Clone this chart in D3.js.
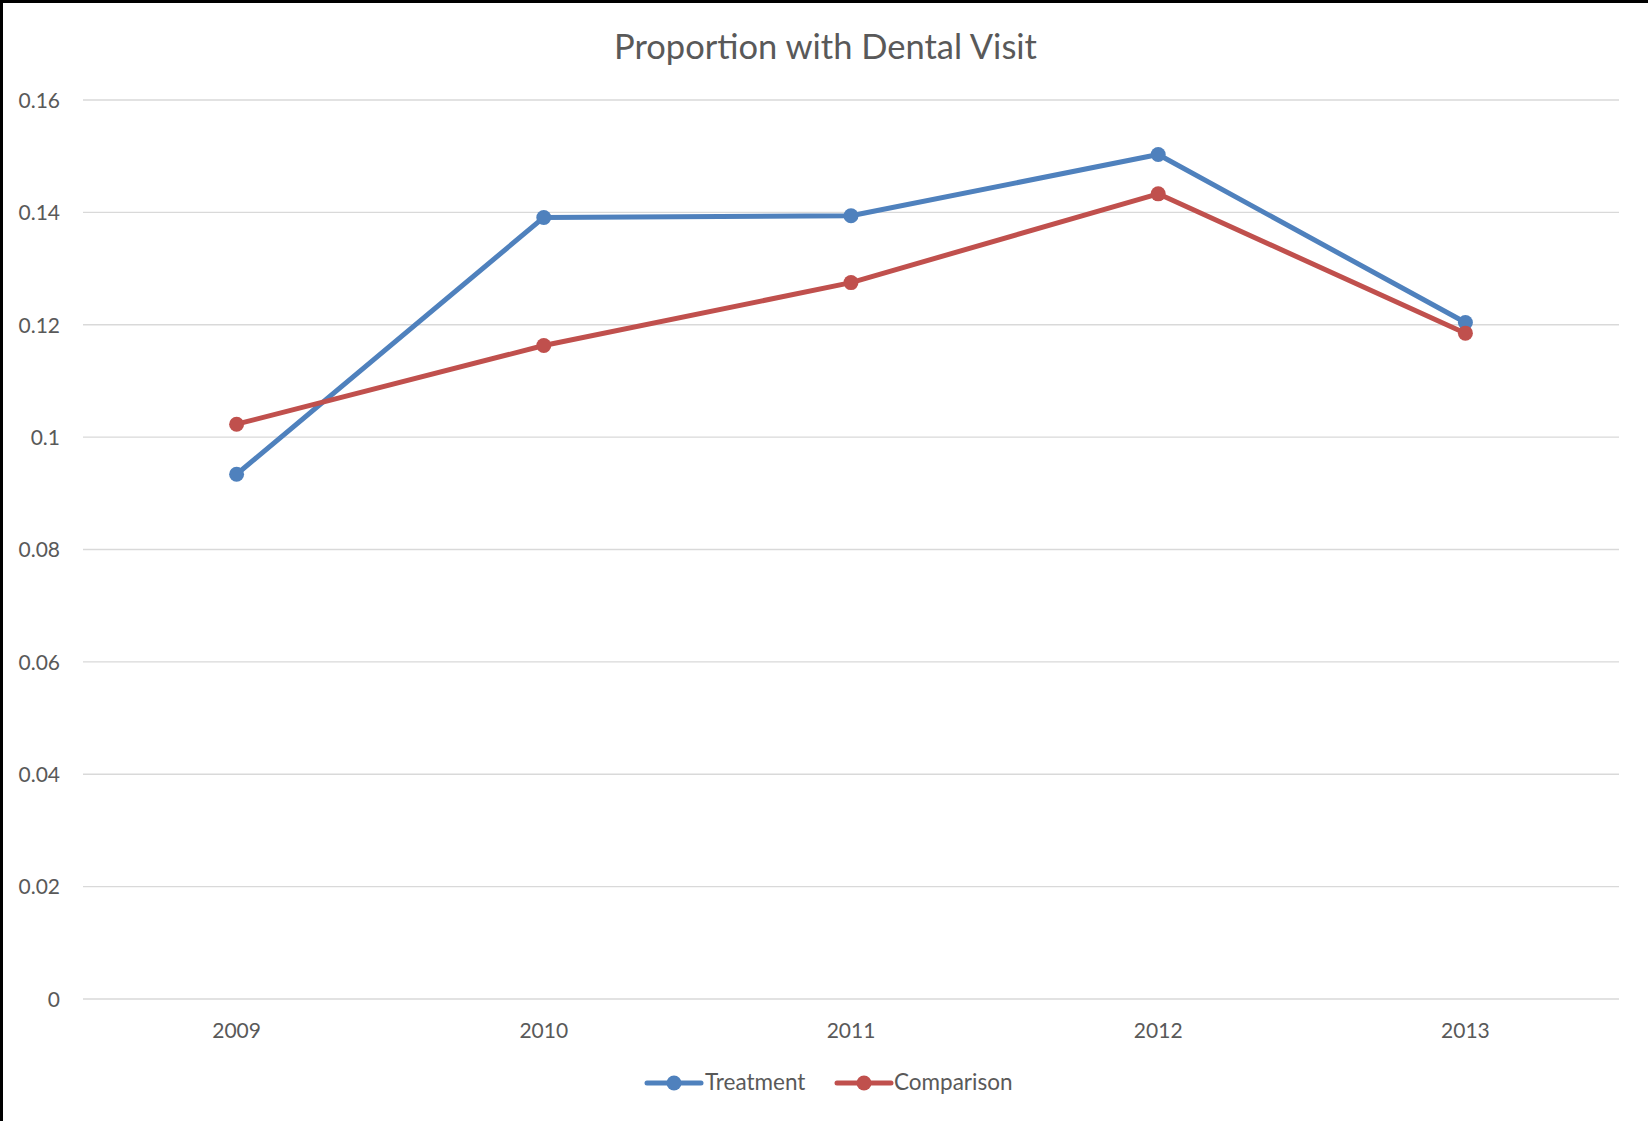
<!DOCTYPE html>
<html>
<head>
<meta charset="utf-8">
<script src="https://cdn.jsdelivr.net/npm/d3@7"></script>
<style>
  html, body { margin: 0; padding: 0; background: #fff; }
  svg { display: block; }
</style>
</head>
<body>
<svg id="chart" width="1648" height="1121"></svg>
<script>
const years = ["2009", "2010", "2011", "2012", "2013"];
const treatment = [0.0934, 0.1391, 0.1394, 0.1503, 0.1204];
const comparison = [0.1023, 0.1163, 0.1275, 0.1433, 0.1185];
const yTicks = [0, 0.02, 0.04, 0.06, 0.08, 0.1, 0.12, 0.14, 0.16];
const yTickLabels = ["0", "0.02", "0.04", "0.06", "0.08", "0.1", "0.12", "0.14", "0.16"];
const seriesNames = ["Treatment", "Comparison"];
const seriesColors = ["#4F81BD", "#C0504D"];
const title = "Proportion with Dental Visit";

const W = 1648, H = 1121;
const margin = { left: 83, right: 29, top: 100, bottom: 122 };
const svg = d3.select("#chart");
const font = "Lato, 'Open Sans', sans-serif";
const textColor = "#595959";

svg.append("rect").attr("width", W).attr("height", H).attr("fill", "#fff");

const x = d3.scaleBand().domain(years).range([margin.left, W - margin.right]);
const y = d3.scaleLinear().domain([0, 0.16]).range([H - margin.bottom, margin.top]);

// gridlines
svg.append("g").selectAll("line").data(yTicks).join("line")
  .attr("x1", margin.left).attr("x2", W - margin.right)
  .attr("y1", d => y(d)).attr("y2", d => y(d))
  .attr("stroke", "#D9D9D9").attr("stroke-width", 1.3);

// y axis labels
const yAxis = d3.axisLeft(y).tickValues(yTicks)
  .tickFormat((d, i) => yTickLabels[i]).tickSize(0).tickPadding(23);
const gy = svg.append("g").attr("transform", `translate(${margin.left},0)`).call(yAxis);
gy.select(".domain").remove();
gy.selectAll("text").attr("font-family", font).attr("font-size", 21)
  .attr("fill", textColor).attr("dy", "0.35em");

// x axis labels
const xAxis = d3.axisBottom(x).tickSize(0).tickPadding(24);
const gx = svg.append("g").attr("transform", `translate(0,${H - margin.bottom})`).call(xAxis);
gx.select(".domain").remove();
gx.selectAll("text").attr("font-family", font).attr("font-size", 21)
  .attr("fill", textColor).attr("dy", "0.71em");

const cx = d => x(d) + x.bandwidth() / 2;
const line = d3.line().x((d, i) => cx(years[i])).y(d => y(d));

[treatment, comparison].forEach((vals, s) => {
  const g = svg.append("g");
  g.append("path").datum(vals).attr("d", line)
    .attr("fill", "none").attr("stroke", seriesColors[s])
    .attr("stroke-width", 5).attr("stroke-linejoin", "round").attr("stroke-linecap", "round");
  g.selectAll("circle").data(vals).join("circle")
    .attr("cx", (d, i) => cx(years[i])).attr("cy", d => y(d))
    .attr("r", 7.5).attr("fill", seriesColors[s]);
});

// title
svg.append("text").attr("x", 825.5).attr("y", 59)
  .attr("text-anchor", "middle").attr("font-family", font).attr("font-size", 34.5)
  .attr("fill", textColor).text(title);

// legend
const legendItems = [
  { x0: 647, x1: 701, tx: 705 },
  { x0: 837, x1: 891, tx: 894 }
];
const ly = 1083;
legendItems.forEach((it, s) => {
  svg.append("line").attr("x1", it.x0).attr("x2", it.x1).attr("y1", ly).attr("y2", ly)
    .attr("stroke", seriesColors[s]).attr("stroke-width", 5).attr("stroke-linecap", "round");
  svg.append("circle").attr("cx", (it.x0 + it.x1) / 2).attr("cy", ly).attr("r", 7.5)
    .attr("fill", seriesColors[s]);
  svg.append("text").attr("x", it.tx).attr("y", 1090)
    .attr("font-family", font).attr("font-size", 22.5).attr("fill", textColor)
    .text(seriesNames[s]);
});

// frame (left and top edges)
svg.append("line").attr("x1", 1.5).attr("x2", 1.5).attr("y1", 0).attr("y2", H)
  .attr("stroke", "#000").attr("stroke-width", 3);
svg.append("line").attr("x1", 0).attr("x2", W).attr("y1", 1.5).attr("y2", 1.5)
  .attr("stroke", "#000").attr("stroke-width", 3);
</script>
</body>
</html>
